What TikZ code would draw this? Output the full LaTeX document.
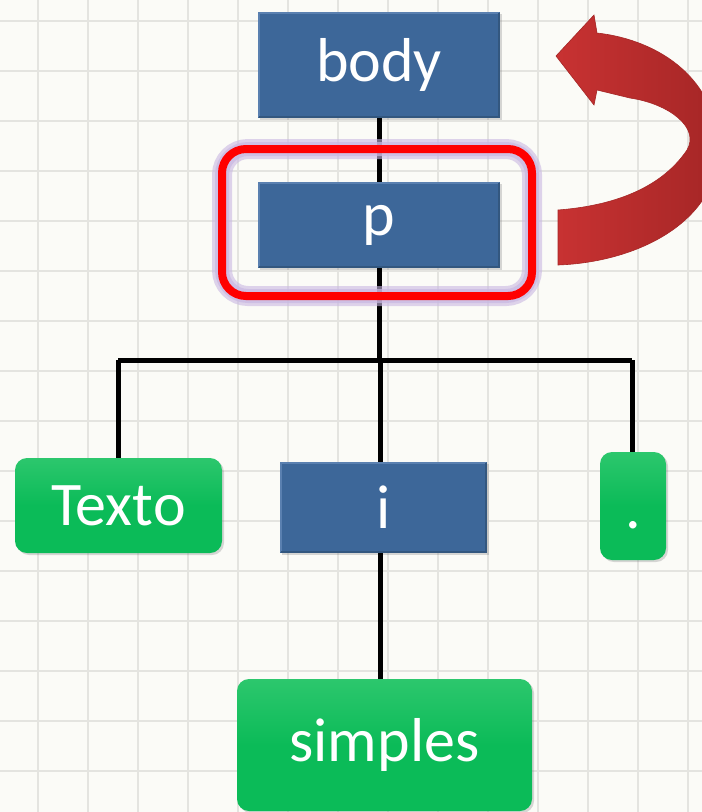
\documentclass[tikz,border=0pt]{standalone}
\usepackage{fontspec}
\setmainfont{Carlito}
\usetikzlibrary{shadows}
\definecolor{paper}{HTML}{FBFBF7}
\definecolor{gridline}{HTML}{E4E4E0}
\definecolor{boxblue}{HTML}{3D6799}
\definecolor{bluelight}{HTML}{5A80B0}
\definecolor{bluedark}{HTML}{33577F}
\definecolor{boxgreen}{HTML}{0BBB58}
\definecolor{greenlight}{HTML}{2CC76D}
\definecolor{glow}{HTML}{C9B8E2}
\definecolor{arrowred}{HTML}{C83232}
\definecolor{arrowdark}{HTML}{A52626}
\tikzset{
  treebox/.style={draw=none, text=white, font=\fontsize{62}{62}\selectfont,
    inner sep=0pt, drop shadow={opacity=0.3, shadow xshift=2pt, shadow yshift=-2pt}},
  bluebox/.style={treebox, fill=boxblue,
    path picture={
      \draw[bluelight, line width=2pt]
        ([shift={(1pt,1pt)}]path picture bounding box.south west) --
        ([shift={(1pt,-1pt)}]path picture bounding box.north west) --
        ([shift={(-1pt,-1pt)}]path picture bounding box.north east);
      \draw[bluedark, line width=2pt]
        ([shift={(1pt,1pt)}]path picture bounding box.south west) --
        ([shift={(-1pt,1pt)}]path picture bounding box.south east) --
        ([shift={(-1pt,-1pt)}]path picture bounding box.north east);
    }},
  greenbox/.style={treebox, rounded corners=12pt, top color=greenlight,
    bottom color=boxgreen, middle color=boxgreen},
  link/.style={line width=5pt, black},
}
\begin{document}
\begin{tikzpicture}[x=1pt, y=-1pt]
  \useasboundingbox (0,0) rectangle (702,812);
  \clip (0,0) rectangle (702,812);
  % squared paper background
  \fill[paper] (0,0) rectangle (702,812);
  \foreach \gx in {38,88,...,700} \draw[gridline, line width=1.2pt] (\gx,0) -- (\gx,812);
  \foreach \gy in {21,71,...,810} \draw[gridline, line width=1.2pt] (0,\gy) -- (702,\gy);

  % tree nodes
  \node[bluebox, minimum width=242pt, minimum height=106pt] (body) at (379,65) {body};
  \node[bluebox, minimum width=242pt, minimum height=86pt] (p) at (379,225) {p};
  \node[greenbox, minimum width=207pt, minimum height=95pt] (texto) at (118.5,505.5) {Texto};
  \node[bluebox, minimum width=207pt, minimum height=91pt] (i) at (383.5,507.5) {i};
  \node[greenbox, minimum width=66pt, minimum height=108pt] (dot) at (633,506) {\vphantom{Tp}\raisebox{-8pt}{.}};
  \node[greenbox, minimum width=295pt, minimum height=132pt] (simples) at (384.5,745) {simples};

  % connectors
  \coordinate (fork) at (380,360);
  \coordinate (forkL) at (118,360);
  \coordinate (forkR) at (632,360);
  \draw[link] (body.south) -- (p.north);
  \draw[link] (p.south) -- (p.south |- fork) -- (fork) -- (fork |- i.north);
  \draw[link] (forkL) -- (forkR);
  \draw[link] (forkL) -- (forkL |- texto.north);
  \draw[link] (forkR) -- (forkR |- dot.north);
  \draw[link] (fork |- i.south) -- (fork |- simples.north);

  % highlight frame around p
  \draw[glow, line width=20pt, rounded corners=26pt, opacity=0.6] (222,149) rectangle (532,296);
  \draw[glow, line width=14pt, rounded corners=26pt, opacity=0.7] (222,149) rectangle (532,296);
  \draw[red, line width=8pt, rounded corners=24pt] (222,149) rectangle (532,296);

  % curved return arrow from p up to body
  \shade[left color=arrowred, right color=arrowdark, draw=arrowdark, line width=0.6pt]
    (558,210) .. controls (610,206) and (660,190) .. (687,150)
    .. controls (700,128) and (670,104) .. (630,98)
    -- (597,90) -- (594,105) -- (556,56) -- (594,15) -- (597,33)
    .. controls (660,40) and (718,80) .. (718,150)
    .. controls (718,220) and (640,262) .. (558,265) -- cycle;
\end{tikzpicture}
\end{document}
